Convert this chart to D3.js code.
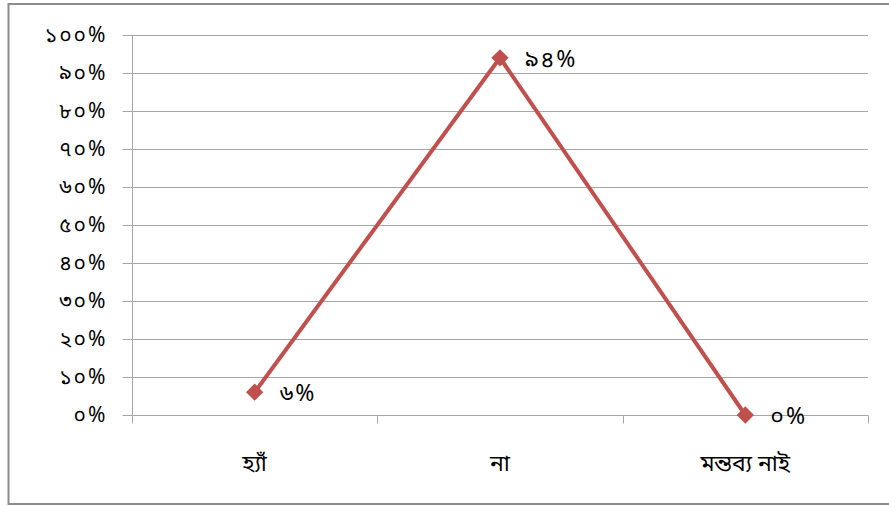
<!DOCTYPE html>
<html>
<head>
<meta charset="utf-8">
<script src="https://cdn.jsdelivr.net/npm/d3@7"></script>
<style>
  html, body { margin: 0; padding: 0; background: #fff; }
  svg { display: block; }
  text { font-family: "Noto Sans Bengali", "Vrinda", "Noto Sans", sans-serif; fill: #000; }
</style>
</head>
<body>
<svg id="chart" width="889" height="506"></svg>
<script>
// Survey answers and their shares (percent)
const categories = ["হ্যাঁ", "না", "মন্তব্য নাই"];
const values = [6, 94, 0];
const valueLabels = ["৬%", "৯৪%", "০%"];
const yTicks = [0, 10, 20, 30, 40, 50, 60, 70, 80, 90, 100];
const yTickLabels = ["০%", "১০%", "২০%", "৩০%", "৪০%", "৫০%", "৬০%", "৭০%", "৮০%", "৯০%", "১০০%"];

const svg = d3.select("#chart");
const W = 889, H = 506;
const plot = { left: 132, right: 868, top: 35, bottom: 415 };

// Outer frame
svg.append("rect")
  .attr("x", 8.5).attr("y", 4)
  .attr("width", W).attr("height", 500)
  .attr("fill", "none").attr("stroke", "#8c8c8c").attr("stroke-width", 2);

const x = d3.scaleBand().domain(categories).range([plot.left, plot.right]).padding(0);
const y = d3.scaleLinear().domain([0, 100]).range([plot.bottom, plot.top]);

// Horizontal gridlines
svg.append("g")
  .selectAll("line")
  .data(yTicks)
  .join("line")
  .attr("x1", plot.left).attr("x2", plot.right)
  .attr("y1", d => Math.round(y(d)) + 0.5).attr("y2", d => Math.round(y(d)) + 0.5)
  .attr("stroke", "#a6a6a6").attr("stroke-width", 1);

// Y axis
const yAxis = svg.append("g")
  .attr("transform", `translate(${plot.left + 0.5},0)`)
  .call(d3.axisLeft(y).tickValues(yTicks).tickSize(10).tickPadding(15)
    .tickFormat((d, i) => yTickLabels[i]));
yAxis.select(".domain").attr("stroke", "#a6a6a6").attr("d", `M0,${plot.top}V${plot.bottom + 0.5}`);
yAxis.selectAll(".tick line").attr("stroke", "#a6a6a6");
yAxis.selectAll(".tick text")
  .attr("font-size", 21)
  .attr("letter-spacing", 2)
  .style("fill", "#000");

// X axis with ticks at category boundaries
const xAxisG = svg.append("g")
  .attr("transform", `translate(0,${Math.round(plot.bottom) + 0.5})`);
xAxisG.append("line")
  .attr("x1", plot.left).attr("x2", plot.right)
  .attr("stroke", "#a6a6a6");
const boundaries = categories.map(c => x(c)).concat([x(categories[categories.length - 1]) + x.bandwidth()]);
xAxisG.selectAll("line.tk")
  .data(boundaries)
  .join("line")
  .attr("class", "tk")
  .attr("x1", d => Math.round(d) + 0.5).attr("x2", d => Math.round(d) + 0.5)
  .attr("y1", 0).attr("y2", 8)
  .attr("stroke", "#a6a6a6");
xAxisG.selectAll("text")
  .data(categories)
  .join("text")
  .attr("x", d => x(d) + x.bandwidth() / 2)
  .attr("y", 55)
  .attr("text-anchor", "middle")
  .attr("font-size", 23)
  .text(d => d);

// Line
const pts = categories.map((c, i) => [x(c) + x.bandwidth() / 2, y(values[i])]);
svg.append("path")
  .datum(pts)
  .attr("d", d3.line())
  .attr("fill", "none")
  .attr("stroke", "#c0504d")
  .attr("stroke-width", 4);

// Diamond markers
svg.append("g")
  .selectAll("path")
  .data(pts)
  .join("path")
  .attr("transform", d => `translate(${d[0]},${d[1]})`)
  .attr("d", d3.symbol(d3.symbolDiamond2, 190)())
  .attr("fill", "#c0504d");

// Value labels
svg.append("g")
  .selectAll("text")
  .data(pts)
  .join("text")
  .attr("x", d => d[0] + 25)
  .attr("y", d => d[1] + 9)
  .attr("font-size", 23)
  .attr("letter-spacing", 2)
  .text((d, i) => valueLabels[i]);
</script>
</body>
</html>
